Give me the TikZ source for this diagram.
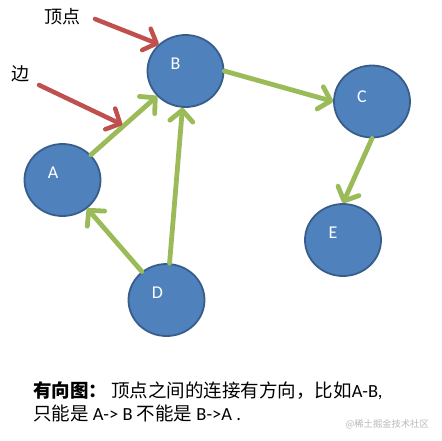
\documentclass[tikz,border=0pt]{standalone}
\usepackage{fontspec}
\setmainfont{Carlito}
\newfontfamily\cjk{Noto Sans CJK SC}
\usetikzlibrary{arrows.meta,shapes.geometric,calc}
\definecolor{vblue}{HTML}{4F81BD}
\definecolor{vborder}{HTML}{385D8A}
\definecolor{egreen}{HTML}{9BBB59}
\definecolor{pred}{HTML}{C0504D}

\begin{document}
\begin{tikzpicture}[x=1pt, y=-1pt, line join=round, line cap=round,
  vertex/.style={ellipse, draw=vborder, fill=vblue, line width=1.8pt,
    minimum width=76pt, minimum height=72pt, inner sep=0pt},
  tag/.style={text=white, inner sep=0pt, font=\fontsize{18}{20}\selectfont},
  edge/.style={draw=egreen, line width=4.8pt,
    -{Straight Barb[round, length=11pt, width=23pt]}},
  pointer/.style={draw=pred, line width=4.5pt,
    -{Straight Barb[round, length=11pt, width=23pt]}},
  hint/.style={inner sep=0pt, font=\cjk\fontsize{18}{20}\selectfont}]
  \useasboundingbox (0, 0) rectangle (442, 440);

  % Vertices
  \node[vertex, label={[tag, xshift=-9.5pt, yshift=7pt]center:A}] (A) at (62.5, 180) {};
  \node[vertex, label={[tag, xshift=-10pt, yshift=7pt]center:B}] (B) at (185.5, 71) {};
  \node[vertex, label={[tag, xshift=-10pt, yshift=5pt]center:C}] (C) at (372, 101.5) {};
  \node[vertex, label={[tag, xshift=-9pt, yshift=7pt]center:D}] (D) at (166.5, 300) {};
  \node[vertex, label={[tag, xshift=-10pt, yshift=7pt]center:E}] (E) at (343, 240) {};

  % Directed edges
  \draw[edge] (A) -- (B);
  \draw[edge] (B.east) -- (C.west);
  \draw[edge] (C.south) -- (E.north);
  \draw[edge] (D) -- (B);
  \draw[edge] (D) -- (A);

  % Pointers to a vertex and an edge
  \node[hint] (vname) at (62, 17) {顶点};
  \node[hint] (ename) at (20, 74) {边};
  \coordinate (vtail) at (95, 19);
  \coordinate (etail) at (39, 85);
  \coordinate (abmid) at ($(A)!0.5!(B)$);
  \draw[pointer] (vtail) -- (B.135);
  \draw[pointer, shorten >=2pt] (etail) -- (abmid);

  % Caption
  \node[anchor=base west, inner sep=0pt, font=\fontsize{18.5}{22.5}\selectfont] (cap1) at (33, 397.5)
    {{\cjk\bfseries 有向图：} {\cjk 顶点之间的连接有方向，比如}A-B,};
  \node[anchor=base west, inner sep=0pt, font=\fontsize{18.5}{22.5}\selectfont] (cap2) at (33, 420)
    {{\cjk 只能是} A-> B {\cjk 不能是} B->A .};
  \node[anchor=base east, inner sep=0pt, text=black!28, font=\cjk\fontsize{9.3}{11}\selectfont] (mark) at (429, 427)
    {@稀土掘金技术社区};
\end{tikzpicture}
\end{document}
